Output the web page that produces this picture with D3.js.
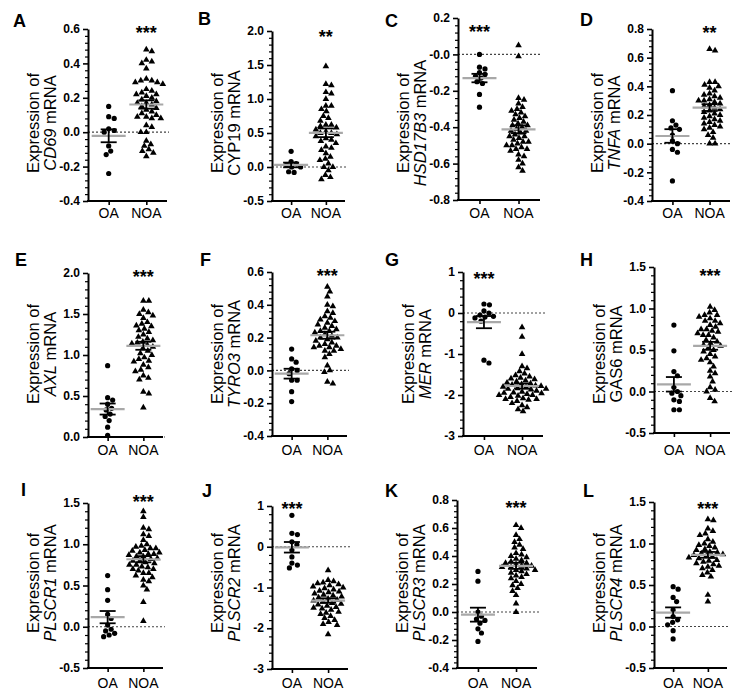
<!DOCTYPE html>
<html><head><meta charset="utf-8">
<script src="https://cdn.jsdelivr.net/npm/d3@7"></script>
<style>body{margin:0;background:#fff}svg{display:block}</style>
</head><body>
<script>
// ---------- data ----------
const letters = ["A","B","C","D","E","F","G","H","I","J","K","L"];
const genes = ["CD69","CYP19","HSD17B3","TNFA","AXL","TYRO3","MER","GAS6","PLSCR1","PLSCR2","PLSCR3","PLSCR4"];
const geneItalic = [true,false,true,true,true,true,true,false,true,true,true,true];
const groups = ["OA","NOA"];
const stars = ["***","**","***","**","***","***","***","***","***","***","***","***"];
const starGroup = ["NOA","NOA","OA","NOA","NOA","NOA","OA","NOA","NOA","OA","NOA","NOA"];
const tickValues = [
  [0.6,0.4,0.2,0,-0.2,-0.4],
  [2,1.5,1,0.5,0,-0.5],
  [0.2,0,-0.2,-0.4,-0.6,-0.8],
  [0.8,0.6,0.4,0.2,0,-0.2,-0.4],
  [2,1.5,1,0.5,0],
  [0.6,0.4,0.2,0,-0.2,-0.4],
  [1,0,-1,-2,-3],
  [1.5,1,0.5,0,-0.5],
  [1.5,1,0.5,0,-0.5],
  [1,0,-1,-2,-3],
  [0.8,0.6,0.4,0.2,0,-0.2,-0.4],
  [1.5,1,0.5,0,-0.5]
];
const tickLabels = [
  ["0.6","0.4","0.2","0.0","-0.2","-0.4"],
  ["2.0","1.5","1.0","0.5","0.0","-0.5"],
  ["0.2","-0.0","-0.2","-0.4","-0.6","-0.8"],
  ["0.8","0.6","0.4","0.2","0.0","-0.2","-0.4"],
  ["2.0","1.5","1.0","0.5","0.0"],
  ["0.6","0.4","0.2","0.0","-0.2","-0.4"],
  ["1","0","-1","-2","-3"],
  ["1.5","1.0","0.5","0.0","-0.5"],
  ["1.5","1.0","0.5","0.0","-0.5"],
  ["1","0","-1","-2","-3"],
  ["0.8","0.6","0.4","0.2","0.0","-0.2","-0.4"],
  ["1.5","1.0","0.5","0.0","-0.5"]
];

const A_OA = [0.15,0.09,0.08,0.02,0.01,0.0,-0.08,-0.11,-0.13,-0.24];
const A_NOA = [0.48,0.47,0.42,0.41,0.40,0.37,0.31,0.30,0.30,0.29,0.29,0.28,0.25,0.24,0.23,0.22,0.22,0.21,0.20,0.19,0.18,0.17,0.17,0.16,0.15,0.14,0.13,0.12,0.11,0.10,0.09,0.09,0.08,0.08,0.04,0.03,0.0,0.0,-0.05,-0.07,-0.08,-0.10,-0.11,-0.12,-0.14];
const B_OA = [0.23,0.08,0.05,0.03,0.0,0.0,-0.07,-0.08];
const B_NOA = [1.48,1.22,1.2,1.1,1.08,1.0,0.9,0.9,0.85,0.82,0.75,0.72,0.68,0.62,0.62,0.6,0.58,0.55,0.52,0.5,0.5,0.48,0.45,0.42,0.4,0.38,0.35,0.3,0.28,0.25,0.2,0.15,0.12,0.1,0.05,0.0,0.0,-0.05,-0.12,-0.15,-0.18];
const C_OA = [0.0,-0.07,-0.08,-0.10,-0.11,-0.12,-0.13,-0.15,-0.16,-0.22,-0.29];
const C_NOA = [0.05,-0.01,-0.24,-0.25,-0.27,-0.29,-0.30,-0.31,-0.32,-0.33,-0.34,-0.35,-0.36,-0.37,-0.38,-0.39,-0.39,-0.40,-0.41,-0.42,-0.42,-0.43,-0.44,-0.45,-0.45,-0.46,-0.47,-0.48,-0.48,-0.49,-0.50,-0.50,-0.51,-0.52,-0.52,-0.53,-0.55,-0.56,-0.58,-0.60,-0.62,-0.64];
const D_OA = [0.37,0.16,0.13,0.11,0.10,0.06,0.02,0.0,-0.04,-0.06,-0.26];
const D_NOA = [0.66,0.65,0.43,0.43,0.41,0.40,0.39,0.37,0.35,0.34,0.33,0.32,0.31,0.30,0.30,0.29,0.28,0.27,0.26,0.25,0.24,0.23,0.22,0.21,0.20,0.19,0.18,0.17,0.16,0.15,0.14,0.13,0.12,0.11,0.10,0.08,0.06,0.04,0.0,0.0];
const E_OA = [0.87,0.48,0.45,0.40,0.35,0.33,0.28,0.25,0.20,0.12,0.02];
const E_NOA = [1.66,1.66,1.55,1.52,1.50,1.48,1.45,1.40,1.38,1.36,1.35,1.32,1.30,1.28,1.25,1.22,1.20,1.18,1.16,1.15,1.14,1.12,1.10,1.08,1.05,1.02,1.00,0.97,0.95,0.93,0.92,0.88,0.85,0.82,0.80,0.75,0.72,0.70,0.55,0.53,0.36];
const F_OA = [0.13,0.07,0.05,0.01,0.0,-0.02,-0.06,-0.06,-0.13,-0.19];
const F_NOA = [0.51,0.48,0.45,0.40,0.39,0.36,0.35,0.33,0.32,0.31,0.30,0.29,0.28,0.27,0.26,0.25,0.24,0.24,0.23,0.22,0.21,0.20,0.20,0.19,0.18,0.17,0.16,0.15,0.15,0.14,0.14,0.13,0.12,0.12,0.10,0.08,0.03,0.0,-0.01,-0.07,-0.08];
const G_OA = [0.22,0.20,0.05,0.0,-0.05,-0.08,-0.10,-0.12,-0.20,-1.15,-1.22];
const G_NOA = [-0.35,-0.58,-1.0,-1.3,-1.35,-1.42,-1.48,-1.52,-1.55,-1.58,-1.6,-1.62,-1.65,-1.67,-1.7,-1.72,-1.74,-1.75,-1.77,-1.78,-1.8,-1.82,-1.84,-1.85,-1.85,-1.87,-1.9,-1.92,-1.94,-1.95,-1.96,-1.98,-2.0,-2.0,-2.02,-2.05,-2.08,-2.1,-2.1,-2.12,-2.15,-2.2,-2.25,-2.3,-2.35,-2.4];
const H_OA = [0.80,0.49,0.24,0.19,0.05,0.0,-0.02,-0.05,-0.10,-0.12,-0.22,-0.22];
const H_NOA = [1.02,0.98,0.95,0.92,0.92,0.90,0.88,0.85,0.85,0.82,0.80,0.78,0.75,0.75,0.73,0.72,0.70,0.68,0.68,0.65,0.62,0.60,0.58,0.56,0.55,0.52,0.50,0.48,0.45,0.42,0.40,0.38,0.35,0.30,0.25,0.22,0.18,0.12,0.05,0.02,0.0,-0.08,-0.12];
const I_OA = [0.62,0.45,0.32,0.15,0.10,0.02,-0.03,-0.05,-0.08,-0.10,-0.12];
const I_NOA = [1.40,1.33,1.20,1.18,1.12,1.10,1.05,1.0,0.98,0.97,0.95,0.95,0.93,0.92,0.90,0.90,0.88,0.88,0.87,0.85,0.85,0.83,0.82,0.80,0.80,0.78,0.77,0.75,0.75,0.73,0.72,0.70,0.70,0.68,0.65,0.65,0.62,0.60,0.57,0.55,0.50,0.45,0.30,0.07];
const J_OA = [0.77,0.33,0.30,0.12,0.05,-0.08,-0.25,-0.40,-0.45,-0.52];
const J_NOA = [-0.58,-0.82,-0.85,-0.88,-0.9,-0.92,-0.95,-0.98,-1.0,-1.02,-1.05,-1.08,-1.1,-1.12,-1.15,-1.18,-1.2,-1.22,-1.25,-1.28,-1.3,-1.32,-1.35,-1.38,-1.4,-1.42,-1.45,-1.48,-1.5,-1.52,-1.55,-1.6,-1.62,-1.65,-1.7,-1.75,-1.8,-1.85,-1.9,-1.92,-2.15];
const K_OA = [0.29,0.22,0.0,-0.03,-0.05,-0.06,-0.08,-0.12,-0.15,-0.21];
const K_NOA = [0.62,0.60,0.55,0.52,0.50,0.48,0.46,0.45,0.42,0.41,0.40,0.39,0.38,0.37,0.36,0.35,0.35,0.34,0.33,0.33,0.32,0.32,0.31,0.30,0.30,0.29,0.28,0.27,0.26,0.25,0.24,0.22,0.20,0.19,0.17,0.15,0.12,0.06,0.0];
const L_OA = [0.48,0.45,0.35,0.30,0.20,0.12,0.08,0.05,0.02,-0.05,-0.15];
const L_NOA = [1.29,1.28,1.18,1.15,1.12,1.10,1.05,1.02,1.0,0.98,0.97,0.95,0.93,0.92,0.90,0.89,0.88,0.87,0.86,0.85,0.84,0.83,0.82,0.80,0.79,0.78,0.76,0.75,0.73,0.72,0.70,0.68,0.65,0.62,0.60,0.38,0.30];

const oaSets = [A_OA,B_OA,C_OA,D_OA,E_OA,F_OA,G_OA,H_OA,I_OA,J_OA,K_OA,L_OA];
const noaSets = [A_NOA,B_NOA,C_NOA,D_NOA,E_NOA,F_NOA,G_NOA,H_NOA,I_NOA,J_NOA,K_NOA,L_NOA];

// ---------- layout (pixels) ----------
// [axisX, yTop, yBottom, xAxisLength]
const frames = [
  [88,29,201,79],[272,31,201,73],[458,18,200,82],[652,29,201,78],
  [88,273,437,75],[272,272,436,75],[463,272,436,80],[654,267,433,76],
  [88,503,668,75],[272,506,669,76],[457,500,668,80],[654,502,668,73]
];
const letterPos = [[13,27],[198,25],[385,27],[580,26],[15,266],[200,266],[385,266],[580,266],[21,496],[202,497],[385,497],[583,497]];
const starY = [29,33,28,29,273,272,275,272,498,505,504,505];
const titleMid = [123,123,123,123,354,354,354,354,583,583,583,583];
const catLabelY = [218,218,218,218,455,455,455,455,688,688,688,688];

const W = 741, H = 699;
const svg = d3.select("body").append("svg").attr("width",W).attr("height",H)
  .style("font-family","'Liberation Sans', Arial, sans-serif");

function swarm(vals, yScale, cx, minDist) {
  const order = vals.map((v,i)=>i).sort((a,b)=>vals[b]-vals[a]);
  const placed = [];
  const out = new Array(vals.length);
  for (const i of order) {
    const py = yScale(vals[i]);
    let chosen = 0;
    for (let k=0;k<400;k++) {
      const off = k===0?0:(k%2===1? Math.ceil(k/2): -k/2)*0.5;
      const px = cx+off;
      let ok = true;
      for (const p of placed) {
        const dx=p[0]-px, dy=p[1]-py;
        if (dx*dx+dy*dy < minDist*minDist) {ok=false;break;}
      }
      if (ok) {chosen=off;break;}
    }
    placed.push([cx+chosen,py]);
    out[i] = [cx+chosen,py];
  }
  return out;
}

const tri = d3.symbol().type(d3.symbolTriangle).size(19);

frames.forEach((f,pi)=>{
  const [ax,yt,yb,L] = f;
  const tv = tickValues[pi];
  const hi = d3.max(tv), lo = d3.min(tv);
  const step = tv[0]-tv[1];
  const y = d3.scaleLinear().domain([lo,hi]).range([yb,yt]);
  const x = d3.scalePoint().domain(groups).range([ax, ax+L]).padding(0.55);
  const g = svg.append("g");

  // zero dotted line
  g.append("line").attr("x1",ax).attr("x2",ax+L+2).attr("y1",y(0)).attr("y2",y(0))
    .attr("stroke","#444").attr("stroke-width",1.2).attr("stroke-dasharray","2,2");

  // minor ticks
  const minor = [];
  for (let r=1; r<Math.round((hi-lo)/(step/5)); r++) {
    if (r%5!==0) minor.push(lo + r*step/5);
  }
  g.append("g").attr("transform",`translate(${ax},0)`)
    .call(d3.axisLeft(y).tickValues(minor).tickSize(3).tickFormat(""))
    .call(s=>s.select(".domain").remove())
    .selectAll("line").attr("stroke","#000").attr("stroke-width",1.2);

  // major axis (ticks), labels drawn as own texts
  const yAxis = g.append("g").attr("transform",`translate(${ax},0)`)
    .call(d3.axisLeft(y).tickValues(tv).tickSize(5).tickSizeOuter(0).tickFormat(""));
  yAxis.select(".domain").attr("stroke","#000").attr("stroke-width",2);
  yAxis.selectAll(".tick line").attr("stroke","#000").attr("stroke-width",1.6);
  g.append("g").selectAll("text").data(tv).join("text")
    .attr("x",ax-8).attr("y",d=>y(d)+4.2).attr("text-anchor","end")
    .style("font-size","12px").style("font-weight","bold")
    .text((d,i)=>tickLabels[pi][i]);

  // x axis
  const xAxis = g.append("g").attr("transform",`translate(0,${yb})`)
    .call(d3.axisBottom(x).tickSize(4).tickSizeOuter(0).tickFormat(""));
  xAxis.select(".domain").attr("stroke","#000").attr("stroke-width",2)
    .attr("d",`M${ax-1},0H${ax+L}`);
  xAxis.selectAll(".tick line").attr("stroke","#000").attr("stroke-width",1.6);
  groups.forEach(gr=>{
    g.append("text").attr("x",x(gr)).attr("y",catLabelY[pi]).attr("text-anchor","middle")
      .style("font-size","14px").text(gr);
  });

  // points
  [oaSets[pi], noaSets[pi]].forEach((vals,gi)=>{
    const pos = swarm(vals,y,x(groups[gi]),5.4);
    if (gi===0) {
      g.append("g").selectAll("circle").data(pos).join("circle")
        .attr("cx",d=>d[0]).attr("cy",d=>d[1]).attr("r",2.6).attr("fill","#000");
    } else {
      g.append("g").selectAll("path").data(pos).join("path")
        .attr("d",tri).attr("transform",d=>`translate(${d[0]},${d[1]})`).attr("fill","#000");
    }
    const m = d3.mean(vals), se = d3.deviation(vals)/Math.sqrt(vals.length);
    const cx = x(groups[gi]);
    g.append("line").attr("x1",cx-17).attr("x2",cx+17).attr("y1",y(m)).attr("y2",y(m))
      .attr("stroke","#a8a8a8").attr("stroke-width",2.2);
    const eb = g.append("g").attr("stroke","#000").attr("stroke-width",1.8);
    eb.append("line").attr("x1",cx).attr("x2",cx).attr("y1",y(m+se)).attr("y2",y(m-se));
    eb.append("line").attr("x1",cx-8).attr("x2",cx+8).attr("y1",y(m+se)).attr("y2",y(m+se));
    eb.append("line").attr("x1",cx-8).attr("x2",cx+8).attr("y1",y(m-se)).attr("y2",y(m-se));
  });

  // stars
  g.append("text").attr("x",x(starGroup[pi])).attr("y",starY[pi]+10).attr("text-anchor","middle")
    .style("font-size","18px").style("font-weight","bold").text(stars[pi]);

  // panel letter
  g.append("text").attr("x",letterPos[pi][0]).attr("y",letterPos[pi][1])
    .style("font-size","18px").style("font-weight","bold").text(letters[pi]);

  // y title
  const tm = titleMid[pi];
  g.append("text").attr("transform",`translate(${ax-49},${tm}) rotate(-90)`).attr("text-anchor","middle")
    .style("font-size","16.5px").text("Expression of");
  const t2 = g.append("text").attr("transform",`translate(${ax-32},${tm}) rotate(-90)`).attr("text-anchor","middle")
    .style("font-size","16.5px");
  t2.append("tspan").style("font-style",geneItalic[pi]?"italic":"normal").text(genes[pi]);
  t2.append("tspan").text(" mRNA");
});
</script>
</body></html>
